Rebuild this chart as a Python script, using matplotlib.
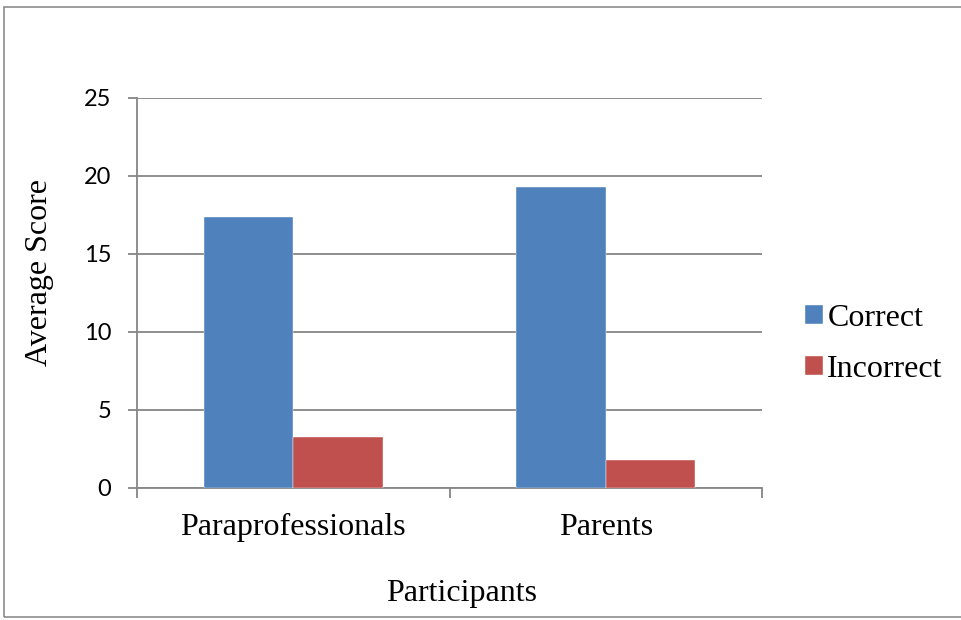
import numpy as np
import matplotlib.pyplot as plt
from matplotlib.patches import Rectangle

# average scores per participant group
groups = ['Paraprofessionals', 'Parents']
correct = [17.35, 19.3]
incorrect = [3.3, 1.8]
series_names = ['Correct', 'Incorrect']
series_colors = ['#4F81BD', '#C0504D']
y_ticks = [0, 5, 10, 15, 20, 25]

grid_color = '#868686'
serif = 'Liberation Serif'
sans = 'Lato'

fig = plt.figure(figsize=(9.61, 6.20), dpi=100)
ax = fig.add_axes([137 / 961, 1 - 488 / 620, 625 / 961, 390 / 620])

x = np.arange(len(groups))
width = 1 / 3.5
for i, (vals, name, col) in enumerate(zip([correct, incorrect], series_names, series_colors)):
    ax.bar(x + (i - 0.5) * width, vals, width, color=col, label=name,
           edgecolor='white', linewidth=0.3, zorder=3)

ax.set_xlim(-0.5, len(groups) - 0.5)
ax.set_ylim(0, 25)
ax.set_yticks(y_ticks)
ax.set_yticklabels([str(t) for t in y_ticks], fontfamily=sans, fontsize=17)
ax.yaxis.grid(True, color=grid_color, linewidth=1.3, zorder=0)
ax.tick_params(axis='y', length=6.5, width=1.3, color=grid_color, pad=12)

# category labels centred, tick marks between categories
ax.set_xticks(x)
ax.set_xticklabels(groups, fontfamily=serif, fontsize=23)
ax.tick_params(axis='x', length=0, pad=18)
ax.set_xticks(np.arange(-0.5, len(groups)), minor=True)
ax.tick_params(axis='x', which='minor', length=7, width=1.3, color=grid_color)

for side in ['top', 'right']:
    ax.spines[side].set_visible(False)
for side in ['left', 'bottom']:
    ax.spines[side].set_color(grid_color)
    ax.spines[side].set_linewidth(1.3)

fig.text(40 / 961, 1 - 272 / 620, 'Average Score', fontfamily=serif, fontsize=23,
         rotation=90, ha='center', va='center')
fig.text(462 / 961, 1 - 593 / 620, 'Participants', fontfamily=serif, fontsize=23,
         ha='center', va='center')

fig.legend(loc='center left', bbox_to_anchor=(805 / 961, 1 - 344 / 620),
           frameon=False, prop={'family': serif, 'size': 23},
           handlelength=0.55, handleheight=0.55, handletextpad=0.15,
           labelspacing=0.68, borderaxespad=0, borderpad=0)

# outer chart border
fig.patches.append(Rectangle((4 / 961, 3 / 620), 1.0, 1 - 10 / 620,
                             transform=fig.transFigure, fill=False,
                             edgecolor='#8c8c8c', linewidth=1.2))

fig.savefig('out.png', dpi=100)
